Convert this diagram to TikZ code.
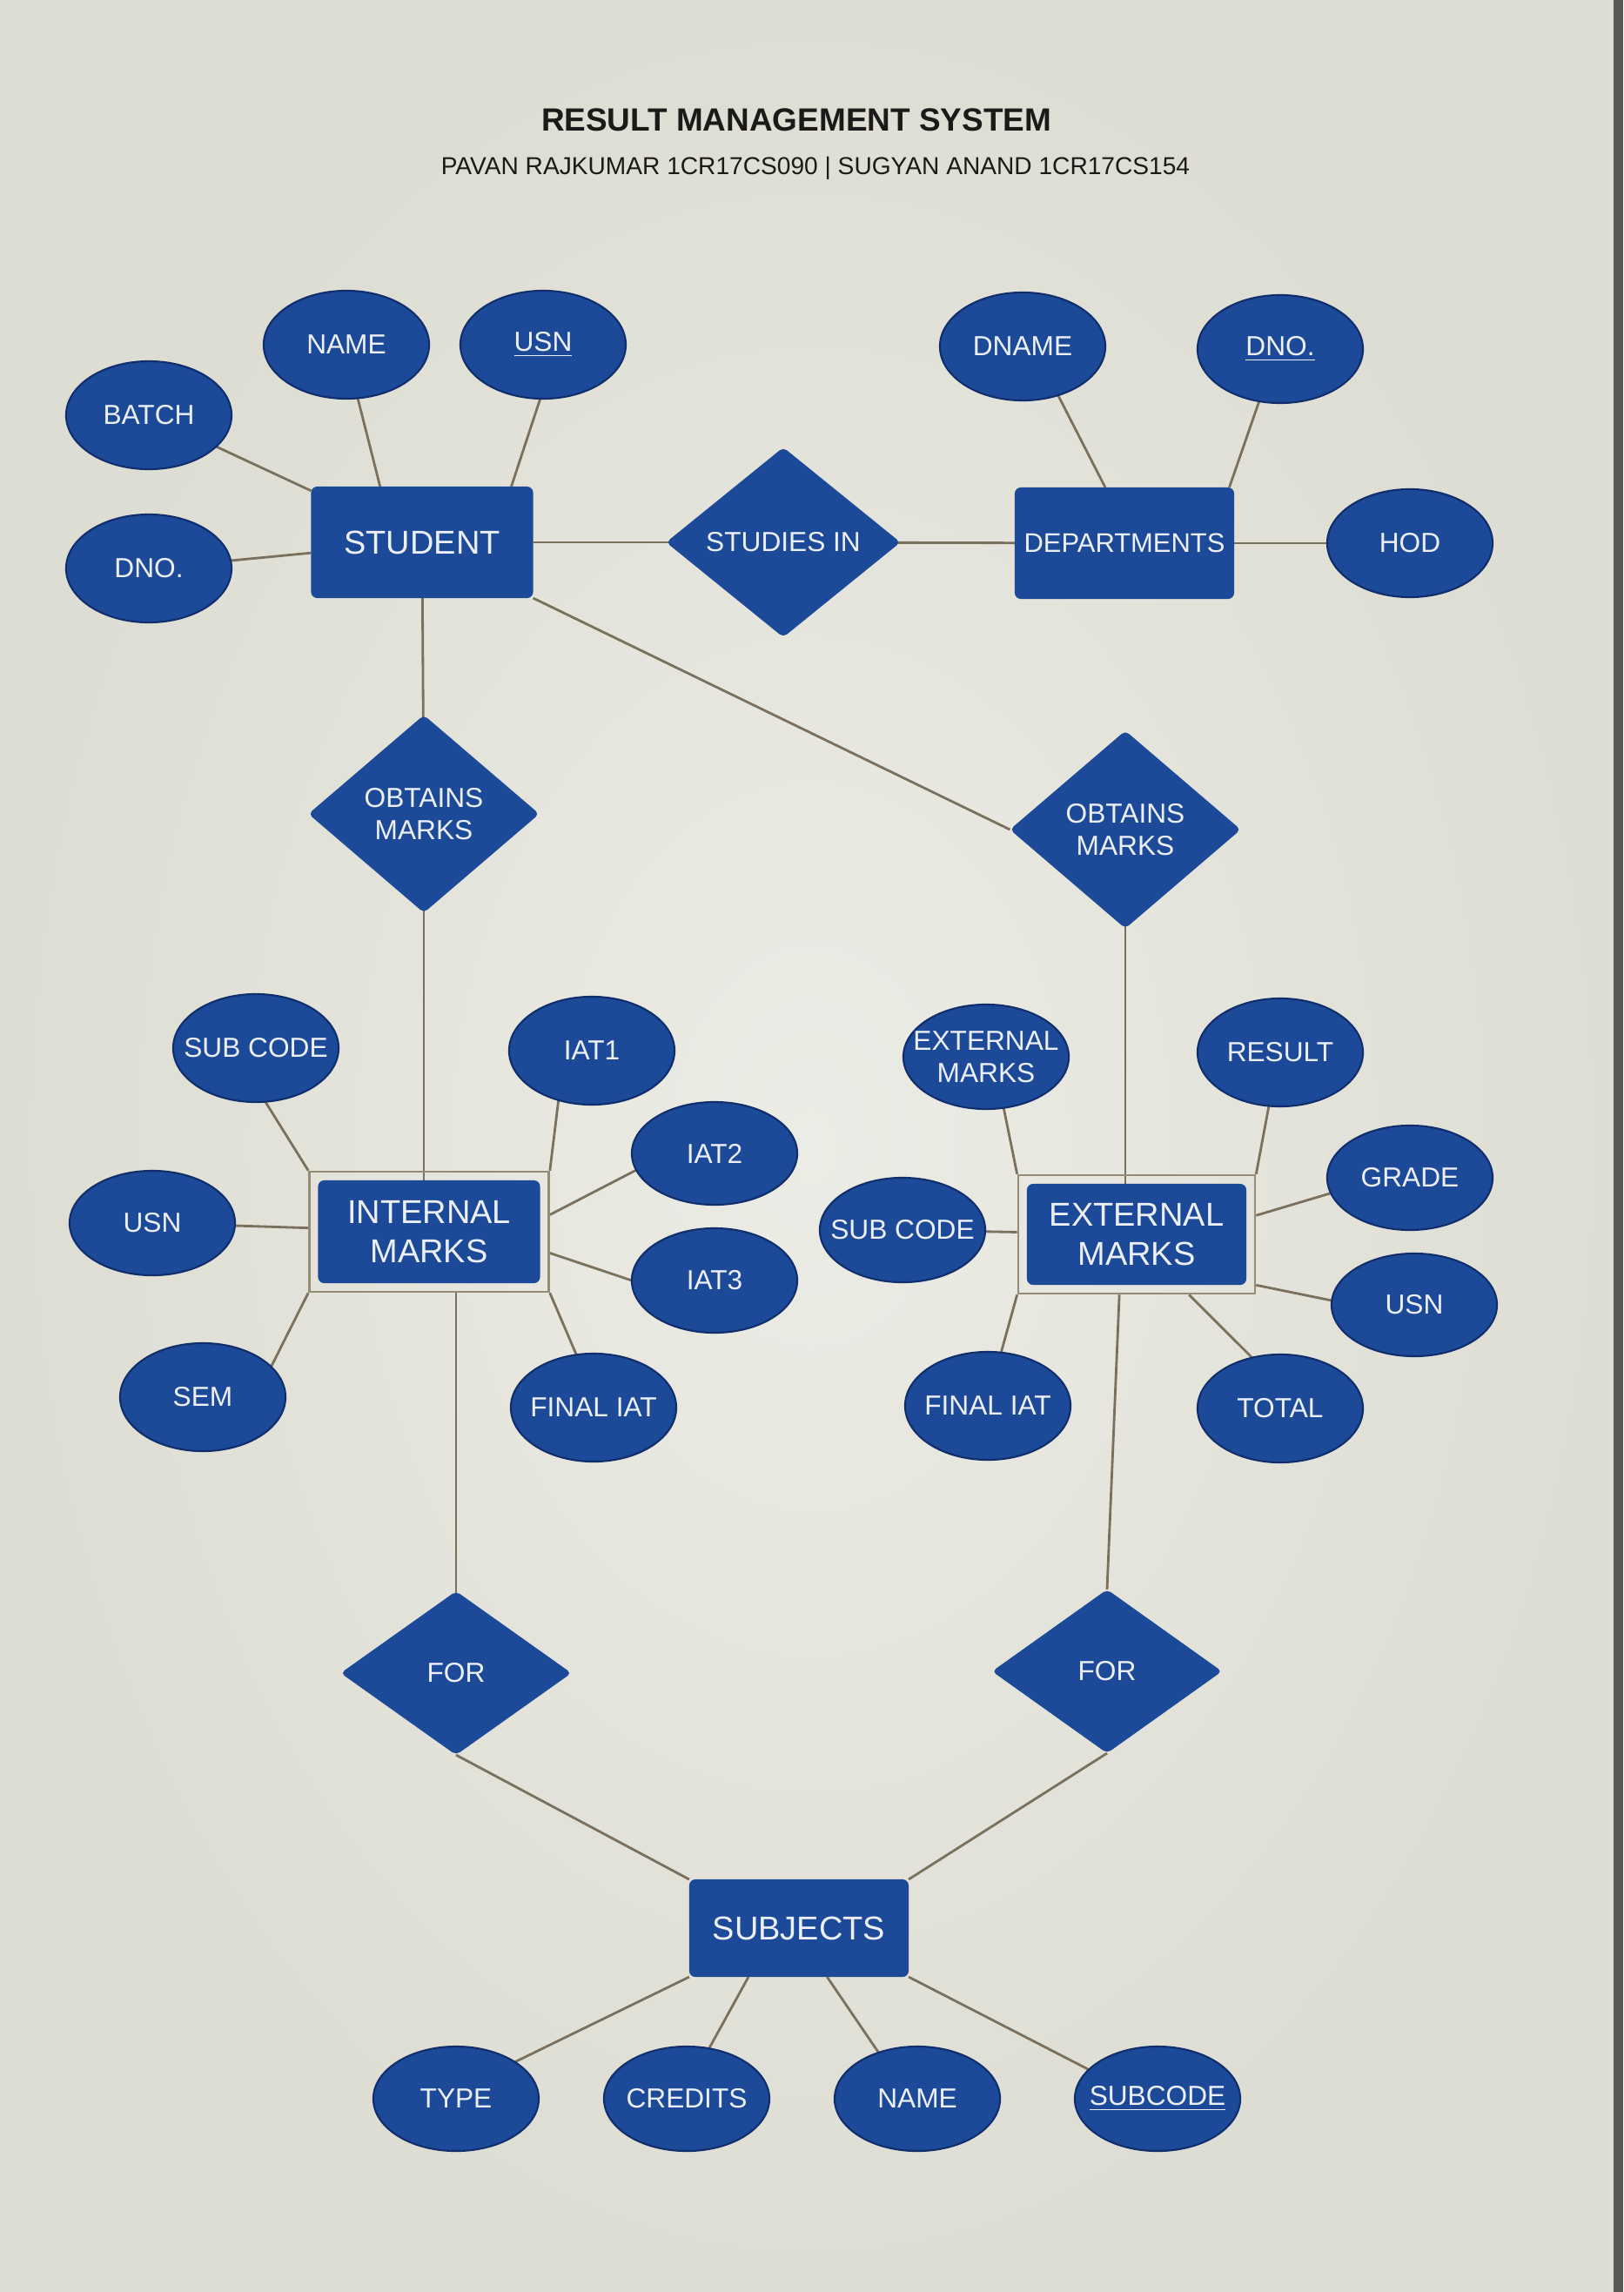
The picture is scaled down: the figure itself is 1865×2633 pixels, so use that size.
\documentclass[tikz,border=0pt]{standalone}
\usepackage{fontspec}
\setmainfont{Liberation Sans}
\usetikzlibrary{shapes.geometric,fit,backgrounds}
\definecolor{nodeblue}{RGB}{28,74,152}
\definecolor{edgeblue}{RGB}{16,46,108}
\definecolor{paperin}{RGB}{236,236,230}
\definecolor{paperout}{RGB}{222,221,211}
\definecolor{stripcol}{RGB}{88,88,84}
\definecolor{linecol}{RGB}{122,112,92}
\definecolor{boxline}{RGB}{150,140,118}
\definecolor{txtwhite}{RGB}{236,240,246}
\definecolor{titlecol}{RGB}{28,26,24}
\begin{document}
\begin{tikzpicture}[x=0.01cm,y=-0.01cm,
  attr/.style={ellipse, fill=nodeblue, draw=edgeblue, line width=0.6pt, minimum width=1.9cm, minimum height=1.24cm, inner sep=0pt, outer sep=0pt},
  atxt/.style={text=txtwhite, font=\fontsize{9}{10.5}\selectfont, align=center, inner sep=0pt},
  ent/.style={rectangle, rounded corners=2pt, fill=nodeblue, text=txtwhite, minimum width=2.55cm, minimum height=1.28cm, inner sep=1pt, outer sep=0pt, align=center, font=\fontsize{10.8}{13}\selectfont},
  rel/.style={diamond, rounded corners=1.5pt, fill=nodeblue, inner sep=0pt, outer sep=0pt, minimum width=2.65cm, minimum height=2.27cm},
  dbl/.style={rectangle, draw=boxline, line width=0.7pt, inner sep=0.1cm},
  conn/.style={draw=linecol, line width=0.8pt},
]
\useasboundingbox (0,0) rectangle (1865,2633);
\begin{scope}[on background layer]
  \shade[inner color=paperin, outer color=paperout] (0,0) rectangle (1865,2633);
  \fill[stripcol] (1854,0) rectangle (1865,2633);
\end{scope}

% title
\node[font=\bfseries\fontsize{10.5}{12}\selectfont, text=titlecol, inner sep=0pt] (title) at (915,138) {RESULT MANAGEMENT SYSTEM};
\node[font=\fontsize{8}{10}\selectfont, text=titlecol, inner sep=0pt] (subtitle) at (937,193) {PAVAN RAJKUMAR 1CR17CS090 | SUGYAN ANAND 1CR17CS154};

% student block
\node[ent] (student) at (485,623) {STUDENT};
\node[attr, label={[atxt]center:NAME}] (name1) at (398,396) {};
\node[attr, label={[atxt]center:\underline{USN}}] (usn1) at (624,396) {};
\node[attr, label={[atxt]center:BATCH}] (batch) at (171,477) {};
\node[attr, label={[atxt]center:DNO.}] (dno1) at (171,653) {};

\node[rel, minimum width=2.69cm, minimum height=2.18cm, label={[atxt]center:STUDIES IN}] (studies) at (900,623) {};

% departments block
\node[ent, minimum width=2.52cm, font=\fontsize{8.8}{10}\selectfont] (dept) at (1292,624) {DEPARTMENTS};
\node[attr, label={[atxt]center:DNAME}] (dname) at (1175,398) {};
\node[attr, label={[atxt]center:\underline{DNO.}}] (dno2) at (1471,401) {};
\node[attr, label={[atxt]center:HOD}] (hod) at (1620,624) {};

% obtains marks
\node[rel, label={[atxt]center:OBTAINS\\MARKS}] (obtL) at (487,935) {};
\node[rel, label={[atxt]center:OBTAINS\\MARKS}] (obtR) at (1293,953) {};

% internal marks
\node[ent, minimum height=1.18cm] (intm) at (493,1415) {INTERNAL\\MARKS};
\node[dbl, fit=(intm)] (intmo) {};
\node[attr, label={[atxt]center:SUB CODE}] (subL) at (294,1204) {};
\node[attr, label={[atxt]center:IAT1}] (iat1) at (680,1207) {};
\node[attr, minimum height=1.18cm, label={[atxt]center:IAT2}] (iat2) at (821,1325) {};
\node[attr, minimum height=1.2cm, label={[atxt]center:IAT3}] (iat3) at (821,1471) {};
\node[attr, minimum height=1.2cm, label={[atxt]center:USN}] (usnL) at (175,1405) {};
\node[attr, label={[atxt]center:SEM}] (sem) at (233,1605) {};
\node[attr, label={[atxt]center:FINAL IAT}] (finL) at (682,1617) {};

% external marks
\node[ent, minimum width=2.52cm, minimum height=1.16cm] (extm) at (1306,1418) {EXTERNAL\\MARKS};
\node[dbl, fit=(extm)] (extmo) {};
\node[attr, minimum height=1.2cm, label={[atxt]center:EXTERNAL\\MARKS}] (extE) at (1133,1214) {};
\node[attr, label={[atxt]center:RESULT}] (result) at (1471,1209) {};
\node[attr, minimum height=1.2cm, label={[atxt]center:GRADE}] (grade) at (1620,1353) {};
\node[attr, minimum height=1.2cm, label={[atxt]center:SUB CODE}] (subR) at (1037,1413) {};
\node[attr, minimum height=1.18cm, label={[atxt]center:USN}] (usnR) at (1625,1499) {};
\node[attr, label={[atxt]center:FINAL IAT}] (finR) at (1135,1615) {};
\node[attr, label={[atxt]center:TOTAL}] (total) at (1471,1618) {};

% for relations
\node[rel, minimum height=1.88cm, label={[atxt]center:FOR}] (forL) at (524,1922) {};
\node[rel, minimum width=2.64cm, minimum height=1.88cm, label={[atxt]center:FOR}] (forR) at (1272,1920) {};

% subjects
\node[ent, minimum width=2.52cm, minimum height=1.12cm] (subj) at (918,2215) {SUBJECTS};
\node[attr, minimum height=1.2cm, label={[atxt]center:TYPE}] (type) at (524,2411) {};
\node[attr, minimum height=1.2cm, label={[atxt]center:CREDITS}] (credits) at (789,2411) {};
\node[attr, minimum height=1.2cm, label={[atxt]center:NAME}] (name2) at (1054,2411) {};
\node[attr, minimum height=1.2cm, label={[atxt]center:\underline{SUBCODE}}] (subcode) at (1330,2411) {};

% connectors
\begin{scope}[on background layer]
  \draw[conn] (batch) -- (student);
  \draw[conn] (name1.-78) -- (student.127);
  \draw[conn] (usn1.-93) -- (student.32);
  \draw[conn] (dno1) -- (student);
  \draw[conn] (student) -- (studies.center);
  \draw[conn] (studies.center) -- (dept);
  \draw[conn] (dname.-54) -- (dept.109);
  \draw[conn] (dno2.-112) -- (dept.28);
  \draw[conn] (dept) -- (hod);
  \draw[conn] (student) -- (obtL.center);
  \draw[conn] (student.south east) -- (obtR.west);
  \draw[conn] (obtL.center) -- (obtL.south |- intm.north);
  \draw[conn] (obtR.center) -- (obtR.south |- extm.north);
  % internal
  \draw[conn] (subL.-80) -- (intmo.north west);
  \draw[conn] (iat1.-124) -- (intmo.north east);
  \draw[conn] (iat2.192) -- (intmo.8);
  \draw[conn] (iat3.180) -- (intmo.-10);
  \draw[conn] (usnL) -- (intmo);
  \draw[conn] (sem.24) -- (intmo.south west);
  \draw[conn] (finL.108) -- (intmo.south east);
  \draw[conn] (forL.north |- intmo.south) -- (forL.center);
  % external
  \draw[conn] (extE.-71) -- (extmo.north west);
  \draw[conn] (result.-102) -- (extmo.north east);
  \draw[conn] (grade.191) -- (extmo.9);
  \draw[conn] (subR) -- (extmo);
  \draw[conn] (usnR.177) -- (extmo.-23);
  \draw[conn] (finR.76) -- (extmo.south west);
  \draw[conn] (total.119) -- (extmo.-49);
  \draw[conn] (extmo.-106) -- (forR.north);
  % subjects
  \draw[conn] (forL.south) -- (subj.north west);
  \draw[conn] (forR.south) -- (subj.north east);
  \draw[conn] (type.32) -- (subj.south west);
  \draw[conn] (credits.66) -- (subj.-136);
  \draw[conn] (name2.130) -- (subj.-60);
  \draw[conn] (subcode.157) -- (subj.south east);
\end{scope}
\end{tikzpicture}
\end{document}
